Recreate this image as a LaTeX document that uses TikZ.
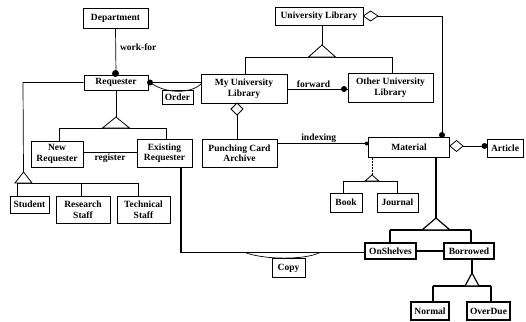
\documentclass[tikz,border=0pt]{standalone}
\usepackage{fontspec}
\setmainfont{Liberation Serif}
\begin{document}
\begin{tikzpicture}[x=1pt,y=-1pt,
  box/.style={draw, line width=0.7pt, inner sep=0pt, align=center, font=\fontsize{9.5}{10.5}\selectfont\bfseries},
  hbox/.style={box, line width=1.3pt},
  ln/.style={line width=0.7pt},
  thk/.style={line width=1.3pt},
  dotted line/.style={line width=0.5pt, densely dotted},
  tri/.style={draw, fill=white, line width=0.8pt},
  lbl/.style={font=\fontsize{9.5}{10}\selectfont\bfseries, inner sep=1pt}
]
\path[fill=white, use as bounding box] (0,0) rectangle (526,321);

% ---------- nodes ----------
\node[box, minimum width=65pt, minimum height=20pt] (dept) at (115.5,18) {Department};
\node[box, minimum width=64pt, minimum height=15pt] (req) at (116,82.5) {Requester};
\node[box, minimum width=86pt, minimum height=29pt] (myul) at (244,88.5) {My University\\Library};
\node[box, minimum width=31pt, minimum height=14pt] (order) at (177.5,97) {Order};
\node[box, minimum width=85pt, minimum height=29pt] (oul) at (390.5,87.5) {Other University\\Library};
\node[box, minimum width=88pt, minimum height=18pt] (ul) at (319,16) {University Library};
\node[box, minimum width=81pt, minimum height=20pt] (mat) at (409,147.5) {Material};
\node[box, minimum width=36pt, minimum height=18pt] (art) at (505,148) {Article};
\node[box, minimum width=75pt, minimum height=28pt] (pca) at (239.5,153) {Punching Card\\Archive};
\node[box, minimum width=52pt, minimum height=26pt] (newreq) at (57,154) {New\\Requester};
\node[box, minimum width=55pt, minimum height=28pt] (exreq) at (164.5,153) {Existing\\Requester};
\node[box, minimum width=39pt, minimum height=17pt] (student) at (29.5,204.5) {Student};
\node[box, minimum width=54pt, minimum height=27pt] (research) at (83,209.5) {Research\\Staff};
\node[box, minimum width=53pt, minimum height=27pt] (technical) at (143.5,209.5) {Technical\\Staff};
\node[box, minimum width=32pt, minimum height=19pt] (book) at (346,202.5) {Book};
\node[box, minimum width=41pt, minimum height=19pt] (journal) at (397.5,202.5) {Journal};
\node[hbox, minimum width=51pt, minimum height=16pt] (onsh) at (390.5,251) {OnShelves};
\node[hbox, minimum width=50pt, minimum height=16pt] (borr) at (469,251) {Borrowed};
\node[hbox, minimum width=38pt, minimum height=18pt] (normal) at (430,311) {Normal};
\node[hbox, minimum width=43pt, minimum height=18pt] (overdue) at (488.5,311) {OverDue};
\node[box, minimum width=33pt, minimum height=19pt] (copy) at (288.5,268) {Copy};

% ---------- Department - Requester ----------
\draw[ln] (dept.south) -- (req.north) node[lbl, pos=0.4, anchor=west, xshift=3pt] (workfor) {work-for};
\fill (115.5,73.5) circle[radius=3.5pt];

% ---------- Requester - My University Library (Order) ----------
\coordinate (rq1) at (150,82.5);
\coordinate (ml1) at (myul.west |- rq1);
\draw[ln] (req.east |- rq1) -- (ml1);
\draw[ln] (rq1) .. controls (166,94) and (190,94) .. (201,84);
\fill (rq1) circle[radius=3pt];

% ---------- forward ----------
\coordinate (f1) at (myul.east |- 0,89);
\coordinate (f2) at (oul.west |- 0,89);
\draw[ln] (f1) -- (f2) node[lbl, midway, above, xshift=-4pt] (fwd) {forward};
\fill (344,89) circle[radius=3pt];

% ---------- University Library generalization ----------
\coordinate (ta) at (322,45);
\coordinate (tl) at (308.5,57);
\coordinate (tr) at (335.5,57);
\draw[line width=0.4pt] (ul.south -| ta) -- (ta);
\coordinate (gl) at (245,57);
\coordinate (gr) at (392,57);
\draw[ln] (gl) -- (gr);
\draw[ln] (gl) -- (gl |- myul.north);
\draw[ln] (gr) -- (gr |- oul.north);
\draw[tri] (ta) -- (tl) -- (tr) -- cycle;

% ---------- University Library aggregation of Material ----------
\coordinate (ud1) at (ul.east);
\coordinate (ud2) at (378,16);
\coordinate (uc) at (442,16);
\coordinate (um) at (442,136);
\draw[ln] (ud2) -- (uc) -- (um);
\draw[tri] (ud1) -- (370.5,11) -- (ud2) -- (370.5,21) -- cycle;
\fill (442,135) circle[radius=3pt];

% ---------- My University Library aggregation of Punching Card Archive ----------
\coordinate (md1) at (237,103);
\coordinate (md2) at (237,115);
\draw[ln] (md2) -- (md2 |- pca.north);
\draw[tri] (md1) -- (231,109) -- (md2) -- (243,109) -- cycle;

% ---------- indexing ----------
\coordinate (ix1) at (pca.east |- 0,143.5);
\coordinate (ix2) at (mat.west |- 0,143.5);
\draw[ln] (ix1) -- (ix2) node[lbl, midway, above, xshift=-4pt] (idx) {indexing};
\fill (ix2) ++(-1.5,0) circle[radius=2pt];

% ---------- Material - Article ----------
\coordinate (ad1) at (mat.east |- 0,146);
\coordinate (ad2) at (463,146);
\draw[ln] (ad2) -- (art.west |- ad2);
\draw[tri] (ad1) -- (456.5,140.5) -- (ad2) -- (456.5,151.5) -- cycle;
\fill (484.5,146) circle[radius=3pt];

% ---------- Book / Journal ----------
\coordinate (ba) at (372,175);
\draw[dotted line] (ba |- mat.south) -- (ba);
\coordinate (bl) at (343,181);
\coordinate (br) at (397,181);
\draw[ln] (bl) -- (br);
\draw[ln] (bl) -- (bl |- book.north);
\draw[ln] (br) -- (br |- journal.north);
\draw[tri] (ba) -- (365,181) -- (379,181) -- cycle;

% ---------- OnShelves / Borrowed ----------
\coordinate (oa) at (436,218);
\draw[thk] (oa |- mat.south) -- (oa);
\coordinate (ol) at (390,230);
\coordinate (or) at (471,230);
\draw[thk] (ol) -- (or);
\draw[thk] (ol) -- (ol |- onsh.north);
\draw[thk] (or) -- (or |- borr.north);
\draw[tri, line width=1.2pt] (oa) -- (422,230) -- (450,230) -- cycle;
\draw[thk] (onsh.east) -- (borr.west);

% ---------- Normal / OverDue ----------
\coordinate (na) at (472,273);
\draw[thk] (na |- borr.south) -- (na);
\coordinate (nl) at (433,286);
\coordinate (nr) at (491,286);
\draw[thk] (nl) -- (nr);
\draw[thk] (nl) -- (nl |- normal.north);
\draw[thk] (nr) -- (nr |- overdue.north);
\draw[tri, line width=1.2pt] (na) -- (465,286) -- (479,286) -- cycle;

% ---------- Existing Requester - OnShelves (Copy) ----------
\coordinate (e1) at (181,252.5);
\coordinate (e2) at (onsh.west |- e1);
\draw[thk] (e1 |- exreq.south) -- (e1) -- (e2);
\draw[ln] (245,252.5) .. controls (265,260) and (305,260) .. (320,252.5);

% ---------- Requester generalization ----------
\coordinate (ra) at (116,117);
\draw[ln] (ra |- req.south) -- (ra);
\coordinate (rl) at (59,128);
\coordinate (rr) at (166,128);
\draw[ln] (rl) -- (rr);
\draw[ln] (rl) -- (rl |- newreq.north);
\draw[ln] (rr) -- (rr |- exreq.north);
\draw[tri] (ra) -- (102.5,128) -- (129.5,128) -- cycle;

% ---------- register ----------
\coordinate (rg1) at (newreq.east |- 0,152);
\coordinate (rg2) at (exreq.west |- 0,152);
\draw[ln] (rg1) -- (rg2) node[lbl, midway, below, yshift=-1pt] (reg) {register};

% ---------- Student / Staff ----------
\coordinate (sc) at (23,82.5);
\coordinate (sa) at (23.5,172);
\draw[ln] (req.west |- sc) -- (sc) -- (sa);
\coordinate (sl) at (17,183);
\coordinate (sr) at (138,183);
\coordinate (sm) at (81,183);
\draw[ln] (sl) -- (sr);
\draw[ln] (sl) -- (sl |- student.north);
\draw[ln] (sm) -- (sm |- research.north);
\draw[ln] (sr) -- (sr |- technical.north);
\draw[tri] (sa) -- (15,183) -- (32,183) -- cycle;
\end{tikzpicture}
\end{document}
